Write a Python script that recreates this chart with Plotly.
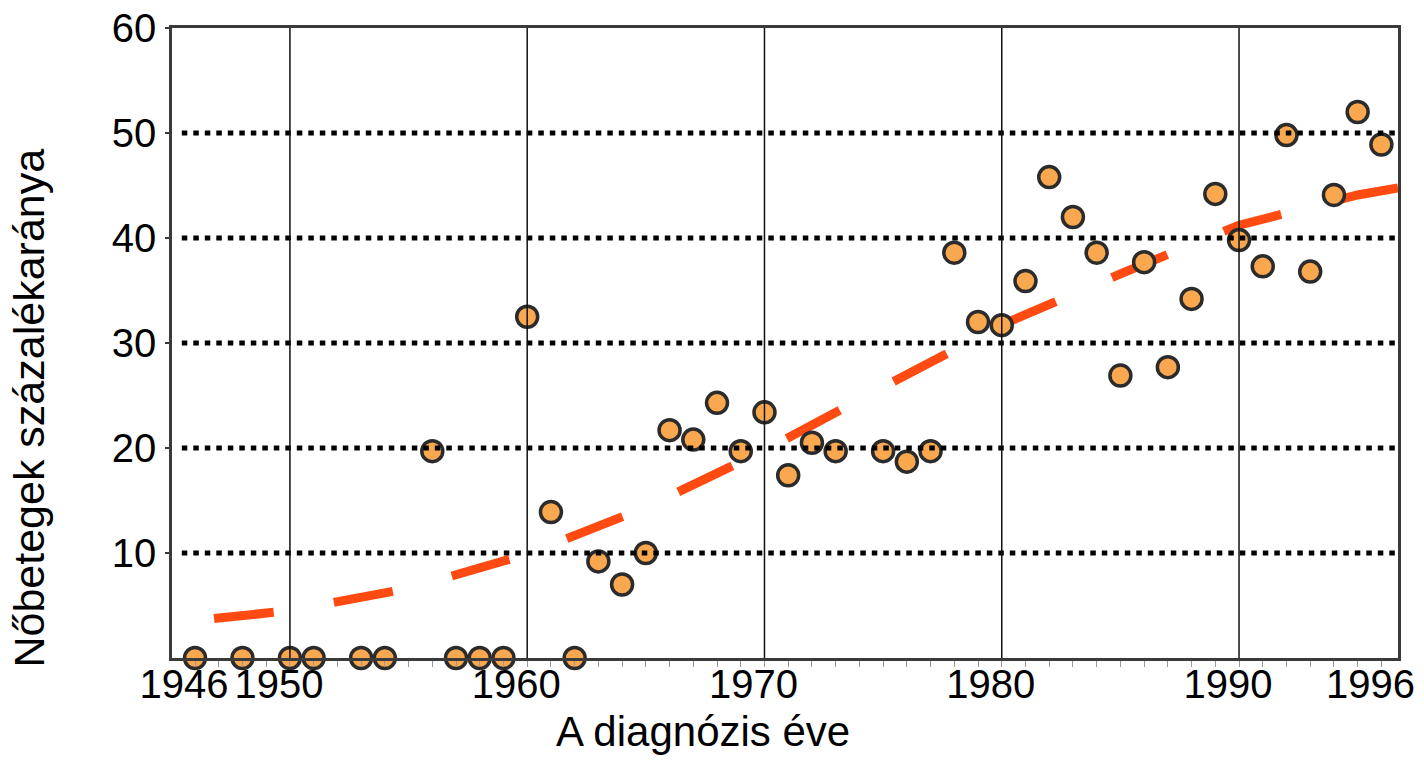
import plotly.graph_objects as go

# ---- data ----
years = [1946, 1948, 1950, 1951, 1953, 1954, 1956, 1957, 1958, 1959,
         1960, 1961, 1962, 1963, 1964, 1965, 1966, 1967, 1968, 1969,
         1970, 1971, 1972, 1973, 1975, 1976, 1977, 1978, 1979, 1980,
         1981, 1982, 1983, 1984, 1985, 1986, 1987, 1988, 1989, 1990,
         1991, 1992, 1993, 1994, 1995, 1996]
pct_women = [0, 0, 0, 0, 0, 0, 19.7, 0, 0, 0,
             32.5, 13.9, 0, 9.2, 7.0, 10.0, 21.7, 20.8, 24.3, 19.7,
             23.4, 17.4, 20.5, 19.7, 19.7, 18.7, 19.7, 38.6, 32.0, 31.7,
             35.9, 45.8, 42.0, 38.6, 26.9, 37.7, 27.7, 34.2, 44.2, 39.8,
             37.3, 49.8, 36.8, 44.1, 52.0, 48.9]

trend_years = [1946.8, 1950, 1955, 1960, 1965, 1970, 1975, 1980, 1985, 1990, 1995, 1996.7]
trend_values = [3.76, 4.51, 6.62, 9.89, 14.33, 19.77, 25.8, 31.73, 36.58, 41.22, 44.1, 44.78]

x_tick_vals = [1946, 1950, 1960, 1970, 1980, 1990, 1996]
x_tick_text = ["1946", "1950", "1960", "1970", "1980", "1990", "1996"]
x_grid_years = [1950, 1960, 1970, 1980, 1990]
y_tick_vals = [10, 20, 30, 40, 50, 60]
y_grid_vals = [10, 20, 30, 40, 50]

x_title = "A diagnózis éve"
y_title = "Nőbetegek százalékaránya"

FONT = "Liberation Sans, Arial, sans-serif"
X_RANGE = [1945.03, 1996.7]
Y_RANGE = [0, 60]

fig = go.Figure()

fig.add_trace(go.Scatter(
    x=trend_years, y=trend_values, mode="lines",
    line=dict(color="#FF4A12", width=9, dash="60px,61px"),
    hoverinfo="skip", showlegend=False,
))

fig.add_trace(go.Scatter(
    x=years, y=pct_women, mode="markers",
    marker=dict(size=21, color="#F9A850", line=dict(color="#2B2B2B", width=3.5)),
    cliponaxis=False, showlegend=False,
))

shapes = []
for gy in y_grid_vals:
    shapes.append(dict(type="line", xref="paper", yref="y", x0=0.008, x1=1, y0=gy, y1=gy,
                       line=dict(color="#000000", width=5, dash="5.5px,6px"), layer="above"))
for gx in x_grid_years:
    shapes.append(dict(type="line", xref="x", yref="paper", x0=gx, x1=gx, y0=0, y1=1,
                       line=dict(color="#111111", width=1.5), layer="above"))

fig.update_layout(
    width=1424, height=769,
    margin=dict(l=172, r=26, t=28, b=111),
    paper_bgcolor="white", plot_bgcolor="white",
    font=dict(family=FONT, color="#000000"),
    shapes=shapes,
    showlegend=False,
    annotations=[
        dict(text=x_title, xref="paper", yref="paper", x=0.4331, y=-0.1159,
             xanchor="center", yanchor="middle", showarrow=False,
             font=dict(family=FONT, size=42, color="#000000")),
        dict(text=y_title, xref="paper", yref="paper", x=-0.1170, y=0.3968,
             xanchor="center", yanchor="middle", textangle=-90, showarrow=False,
             font=dict(family=FONT, size=43, color="#000000")),
    ],
)

fig.update_xaxes(
    range=X_RANGE, tickmode="array", tickvals=x_tick_vals, ticktext=x_tick_text,
    tickfont=dict(family=FONT, size=40, color="#000000"),
    showgrid=False, zeroline=False, automargin=False,
    showline=True, linecolor="#3A3A3A", linewidth=2.5, mirror=True,
    ticks="outside", ticklen=6, tickcolor="#9A9A9A", tickwidth=1,
    minor=dict(tick0=1946, dtick=1, ticks="outside", ticklen=6, tickcolor="#9A9A9A", tickwidth=1),
    ticklabelstandoff=-17, ticklabelshift=-11, ticklabeloverflow="allow",
)
fig.update_yaxes(
    range=Y_RANGE, tickmode="array", tickvals=y_tick_vals,
    tickfont=dict(family=FONT, size=40, color="#000000"),
    showgrid=False, zeroline=False, automargin=False,
    showline=True, linecolor="#3A3A3A", linewidth=2.5, mirror=True,
    ticks="outside", ticklen=4, tickcolor="#3A3A3A", tickwidth=1.5,
    ticklabelstandoff=1, ticklabeloverflow="allow",
)

# remove the default 8px page margin so the 1424x769 figure fills the window exactly
fig.write_html("out.html",
               config={"displayModeBar": False},
               post_script="document.body.style.margin='0';document.body.style.overflow='hidden';")
